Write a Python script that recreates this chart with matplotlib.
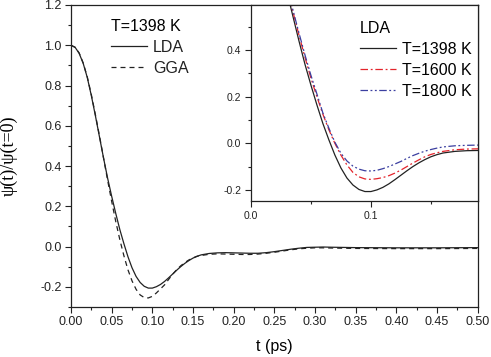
"""Normalised correlation psi(t)/psi(t=0): LDA vs GGA, with LDA temperature inset."""

import matplotlib
matplotlib.use("Agg")
import matplotlib.pyplot as plt
from matplotlib.ticker import MultipleLocator

# --- main panel, T=1398 K ---
t_main = [0.000, 0.005, 0.010, 0.015, 0.020, 0.025, 0.030, 0.035, 0.040, 0.045,
          0.050, 0.055, 0.060, 0.065, 0.070, 0.075, 0.080, 0.085, 0.090, 0.095,
          0.100, 0.105, 0.110, 0.115, 0.120, 0.125, 0.130, 0.135, 0.140, 0.145,
          0.150, 0.155, 0.160, 0.170, 0.180, 0.190, 0.200, 0.210, 0.220, 0.230,
          0.240, 0.250, 0.260, 0.270, 0.280, 0.290, 0.300, 0.310, 0.320, 0.350,
          0.400, 0.450, 0.500]
lda_1398 = [1.000, 0.990, 0.960, 0.910, 0.840, 0.750, 0.650, 0.545, 0.440, 0.340,
            0.250, 0.165, 0.085, 0.015, -0.050, -0.105, -0.148, -0.178, -0.197, -0.206,
            -0.206, -0.199, -0.188, -0.173, -0.155, -0.136, -0.117, -0.099, -0.083, -0.069,
            -0.057, -0.048, -0.041, -0.034, -0.031, -0.030, -0.031, -0.032, -0.033, -0.033,
            -0.030, -0.025, -0.019, -0.013, -0.008, -0.004, -0.003, -0.002, -0.003, -0.005,
            -0.006, -0.006, -0.005]
gga_1398 = [1.000, 0.990, 0.962, 0.912, 0.843, 0.755, 0.655, 0.550, 0.440, 0.330,
            0.225, 0.125, 0.035, -0.045, -0.115, -0.170, -0.212, -0.240, -0.253, -0.255,
            -0.247, -0.230, -0.210, -0.190, -0.163, -0.137, -0.114, -0.095, -0.079, -0.066,
            -0.056, -0.048, -0.044, -0.038, -0.036, -0.037, -0.038, -0.039, -0.039, -0.037,
            -0.033, -0.028, -0.022, -0.016, -0.011, -0.008, -0.006, -0.006, -0.007, -0.009,
            -0.010, -0.010, -0.009]

# --- inset, LDA at three temperatures ---
t_inset = [0.000, 0.005, 0.010, 0.015, 0.020, 0.025, 0.030, 0.035, 0.040, 0.045,
           0.050, 0.055, 0.060, 0.065, 0.070, 0.075, 0.080, 0.085, 0.090, 0.095,
           0.100, 0.105, 0.110, 0.115, 0.120, 0.125, 0.130, 0.135, 0.140, 0.145,
           0.150, 0.155, 0.160, 0.170, 0.180, 0.190]
lda_1600 = [1.000, 0.990, 0.962, 0.913, 0.845, 0.760, 0.665, 0.565, 0.465, 0.370,
            0.280, 0.200, 0.125, 0.058, 0.000, -0.050, -0.092, -0.124, -0.143, -0.152,
            -0.154, -0.151, -0.146, -0.138, -0.127, -0.114, -0.099, -0.084, -0.070, -0.057,
            -0.047, -0.040, -0.034, -0.027, -0.024, -0.023]
lda_1800 = [1.000, 0.990, 0.963, 0.915, 0.848, 0.765, 0.670, 0.572, 0.474, 0.380,
            0.292, 0.212, 0.130, 0.065, 0.005, -0.042, -0.075, -0.097, -0.110, -0.117,
            -0.118, -0.115, -0.108, -0.099, -0.088, -0.077, -0.064, -0.052, -0.042, -0.033,
            -0.026, -0.020, -0.015, -0.010, -0.008, -0.007]

INK = "#222222"
RED = "#e3242b"
BLUE = "#3b3fa0"
SANS = ["Liberation Sans", "DejaVu Sans"]


def style_axis(ax, size, major, minor):
    ax.tick_params(which="both", direction="out", top=False, right=False,
                   colors=INK, labelsize=size, width=0.8)
    ax.tick_params(which="major", length=4.3, pad=2.5)
    ax.tick_params(which="minor", length=2.3)
    for s in ax.spines.values():
        s.set_color(INK)
        s.set_linewidth(0.9)
    ax.xaxis.set_major_locator(MultipleLocator(major[0]))
    ax.xaxis.set_minor_locator(MultipleLocator(minor[0]))
    ax.yaxis.set_major_locator(MultipleLocator(major[1]))
    ax.yaxis.set_minor_locator(MultipleLocator(minor[1]))


def main():
    plt.rcParams["font.family"] = SANS
    fig = plt.figure(figsize=(4.91, 3.57), dpi=100)

    ax = fig.add_axes([0.1446, 0.140, 0.8284, 0.846])
    ax.plot(t_main, lda_1398, color=INK, lw=0.9, label="LDA")
    ax.plot(t_main, gga_1398, color=INK, lw=0.9, dashes=(4, 3.2), label="GGA")
    style_axis(ax, 9, (0.05, 0.2), (0.025, 0.1))
    ax.set_xticks([0.05 * i for i in range(11)])
    ax.set_xticklabels([f"{0.05 * i:.2f}" for i in range(11)])
    ax.set_yticks([-0.2 + 0.2 * i for i in range(8)])
    ax.set_yticklabels([f"{-0.2 + 0.2 * i:.1f}" for i in range(8)])
    ax.set_xlim(0, 0.5)
    ax.set_ylim(-0.3, 1.2)
    ax.set_xlabel("t (ps)", fontsize=11.5)
    ax.xaxis.set_label_coords(0.5, -0.105)
    ax.set_ylabel("\u03c8(t)/\u03c8(t=0)", fontsize=13,
                  family=["Liberation Serif", "DejaVu Serif"])
    ax.yaxis.set_label_coords(-0.13, 0.5)
    leg = ax.legend(loc="upper left", bbox_to_anchor=(0.098, 0.955), frameon=False,
                    title="T=1398 K", alignment="left", fontsize=11.5,
                    title_fontsize=11.5, borderpad=0, borderaxespad=0,
                    handlelength=2.25, handletextpad=0.4, labelspacing=0.38)
    for txt in leg.get_texts():
        txt.set_color(INK)

    ins = fig.add_axes([0.511, 0.436, 0.462, 0.550])
    ins.set_facecolor("white")
    ins.plot(t_main, lda_1398, color=INK, lw=0.9, label="T=1398 K")
    ins.plot(t_inset, lda_1600, color=RED, lw=0.9, dashes=(6, 2.2, 1.5, 2.2),
             label="T=1600 K")
    ins.plot(t_inset, lda_1800, color=BLUE, lw=0.9,
             dashes=(6, 2, 1.5, 2, 1.5, 2), label="T=1800 K")
    style_axis(ins, 7.5, (0.1, 0.2), (0.05, 0.1))
    ins.set_xticks([0.0, 0.1])
    ins.set_xticklabels(["0.0", "0.1"])
    ins.set_yticks([-0.2, 0.0, 0.2, 0.4])
    ins.set_yticklabels(["-0.2", "0.0", "0.2", "0.4"])
    ins.set_xlim(0, 0.189)
    ins.set_ylim(-0.248, 0.593)
    ins.legend(loc="upper left", bbox_to_anchor=(0.481, 0.92), frameon=False,
               title="LDA", alignment="left", fontsize=11.5, title_fontsize=11.5,
               borderpad=0, borderaxespad=0, handlelength=2.25,
               handletextpad=0.4, labelspacing=0.38)

    fig.savefig("out.png", dpi=100)
    plt.close(fig)


if __name__ == "__main__":
    main()
